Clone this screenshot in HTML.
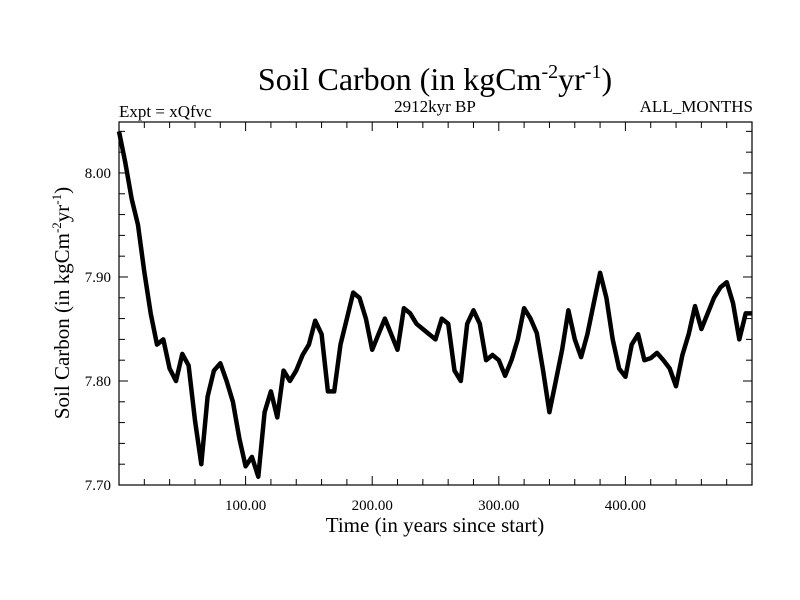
<!DOCTYPE html>
<html><head><meta charset="utf-8"><style>
body{margin:0;background:#fff}
svg{display:block;font-family:"Liberation Serif",serif}
</style></head><body>
<svg id="c" width="800" height="600">
<text x="435" y="90" font-size="32" text-anchor="middle">Soil Carbon (in kgCm<tspan dy="-12" font-size="20">-2</tspan><tspan dy="12">yr</tspan><tspan dy="-12" font-size="20">-1</tspan><tspan dy="12">)</tspan></text>
<text x="119" y="117" font-size="17">Expt = xQfvc</text>
<text x="435" y="112" font-size="17" text-anchor="middle">2912kyr BP</text>
<text x="753" y="112" font-size="17" text-anchor="end">ALL_MONTHS</text>
<text x="435" y="532" font-size="21" text-anchor="middle">Time (in years since start)</text>
<text transform="translate(69,303) rotate(-90)" font-size="21" text-anchor="middle">Soil Carbon (in kgCm<tspan dy="-8" font-size="13">-2</tspan><tspan dy="8">yr</tspan><tspan dy="-8" font-size="13">-1</tspan><tspan dy="8">)</tspan></text>
<g id="ticks"></g>
<path id="line" fill="none" stroke="#000" stroke-width="4.5" stroke-linejoin="round"></path>
<rect x="119" y="122" width="633" height="363" fill="none" stroke="#000" stroke-width="1.2"/>
</svg>
<script>
const years=[0,5,10,15,20,25,30,35,40,45,50,55,60,65,70,75,80,85,90,95,100,105,110,115,120,125,130,135,140,145,150,155,160,165,170,175,180,185,190,195,200,205,210,215,220,225,230,235,240,245,250,255,260,265,270,275,280,285,290,295,300,305,310,315,320,325,330,335,340,345,350,355,360,365,370,375,380,385,390,395,400,405,410,415,420,425,430,435,440,445,450,455,460,465,470,475,480,485,490,495,500];
const carbon=[8.04,8.01,7.975,7.95,7.905,7.865,7.835,7.84,7.812,7.80,7.826,7.815,7.762,7.72,7.785,7.81,7.817,7.80,7.78,7.745,7.718,7.727,7.708,7.77,7.79,7.765,7.81,7.80,7.81,7.825,7.835,7.858,7.845,7.79,7.79,7.835,7.86,7.885,7.88,7.86,7.83,7.845,7.86,7.845,7.83,7.87,7.865,7.855,7.85,7.845,7.84,7.86,7.855,7.81,7.80,7.855,7.868,7.855,7.82,7.825,7.82,7.805,7.82,7.84,7.87,7.86,7.846,7.81,7.77,7.80,7.83,7.868,7.84,7.823,7.845,7.875,7.904,7.88,7.84,7.812,7.804,7.835,7.845,7.82,7.822,7.827,7.82,7.812,7.795,7.825,7.845,7.872,7.85,7.865,7.88,7.89,7.895,7.875,7.84,7.865,7.865];
const xTickLabels=["100.00","200.00","300.00","400.00"];
const yTickLabels=["7.70","7.80","7.90","8.00"];
const L=119,R=752,T=122,B=485,x0=0,x1=500,y0=7.70,y1=8.049;
const X=v=>L+(v-x0)/(x1-x0)*(R-L);
const Y=v=>B-(v-y0)/(y1-y0)*(B-T);
const ns="http://www.w3.org/2000/svg";
const g=document.getElementById('ticks');
function ln(a,b,c,d){const e=document.createElementNS(ns,'line');e.setAttribute('x1',a);e.setAttribute('y1',b);e.setAttribute('x2',c);e.setAttribute('y2',d);e.setAttribute('stroke','#000');


g.appendChild(e);}
function tx(x,y,s,a){const e=document.createElementNS(ns,'text');e.setAttribute('x',x);e.setAttribute('y',y);e.setAttribute('font-size','15');e.setAttribute('text-anchor',a);e.textContent=s;


g.appendChild(e);}
for(let v=20;v<500;v+=20){const x=X(v),m=v%100===0;const len=m?9:6;ln(x,B,x,B-len);ln(x,T,x,T+len);}
xTickLabels.forEach(s=>tx(X(parseFloat(s)),510,s,'middle'));
for(let v=7.72;v<8.049;v+=0.02){const y=Y(v),m=Math.abs(Math.round(v*10)-v*10)<1e-6;const len=m?9:6;ln(L,y,L+len,y);ln(R,y,R-len,y);}
yTickLabels.forEach(s=>tx(L-8,Y(parseFloat(s))+5,s,'end'));
document.getElementById('line').setAttribute('d',years.map((v,i)=>(i?'L':'M')+X(v).toFixed(1)+','+Y(carbon[i]).toFixed(1)).join(''));
</script>
</body></html>
